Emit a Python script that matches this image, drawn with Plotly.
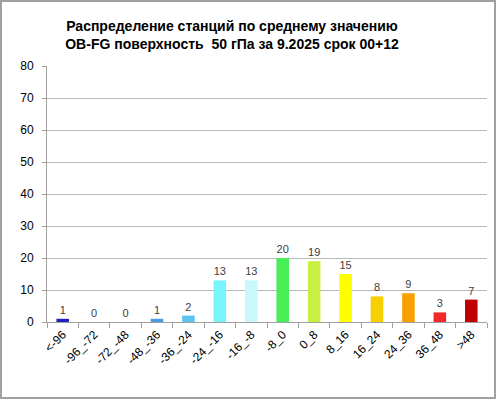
import plotly.graph_objects as go

categories = ["<-96", "-96_-72", "-72_-48", "-48_-36", "-36_-24", "-24_-16", "-16_-8",
              "-8_0", "0_8", "8_16", "16_24", "24_36", "36_48", ">48"]
counts = [1, 0, 0, 1, 2, 13, 13, 20, 19, 15, 8, 9, 3, 7]
colors = ["#2222BB", "#3060D0", "#3A80DA", "#4A9AE8", "#5CC4F2", "#78F4FA", "#C8F8FA",
          "#48EE55", "#C8F040", "#FFFF00", "#F8D000", "#F8A000", "#F02828", "#C00000"]
y_ticks = [0, 10, 20, 30, 40, 50, 60, 70, 80]

W, H = 496, 399
L, R, T, B = 47, 9, 66, 77
pw, ph = W - L - R, H - T - B

fig = go.Figure(go.Bar(
    x=categories, y=counts,
    marker=dict(color=colors, line=dict(width=0)),
    text=[str(v) for v in counts], textposition="outside",
    textfont=dict(family="Liberation Sans, Arial", size=11, color="#404040"),
    cliponaxis=False,
))

fig.update_layout(
    width=W, height=H,
    margin=dict(l=L, r=R, t=T, b=B, autoexpand=False),
    paper_bgcolor="white", plot_bgcolor="white",
    bargap=0.6,
    showlegend=False,
    title=dict(
        text="Распределение станций по среднему значению<br>OB-FG поверхность  50 гПа за 9.2025 срок 00+12",
        x=232 / W, xanchor="center", y=1 - 31 / H, yanchor="top",
        font=dict(family="Liberation Sans, Arial", size=14, color="black", weight="bold"),
    ),
    xaxis=dict(
        type="category", tickangle=-45, tickson="boundaries",
        ticks="outside", ticklen=5, tickcolor="#A0A0A0",
        showline=True, linecolor="#A0A0A0", linewidth=1,
        showgrid=False, automargin=False,
        tickfont=dict(family="Liberation Sans, Arial", size=12, color="black"),
    ),
    yaxis=dict(
        range=[0, 80], tickvals=y_ticks, ticks="outside", ticklen=4, tickcolor="#A0A0A0",
        showline=True, linecolor="#A0A0A0", linewidth=1,
        showgrid=True, gridcolor="#B8B8B8", gridwidth=1, zeroline=False, automargin=False,
        tickfont=dict(family="Liberation Sans, Arial", size=12, color="black"),
        ticklabelstandoff=6,
    ),
    shapes=[dict(
        type="rect", xref="paper", yref="paper",
        x0=(-L + 1) / pw, x1=1 + (R - 1) / pw,
        y0=(-B + 1) / ph, y1=1 + (T - 1) / ph,
        line=dict(color="#A0A0A0", width=2), fillcolor="rgba(0,0,0,0)", layer="below",
    )],
)

fig.write_html("out.html", config={"displayModeBar": False},
               post_script="document.body.style.margin='0';document.body.style.overflow='hidden';")
